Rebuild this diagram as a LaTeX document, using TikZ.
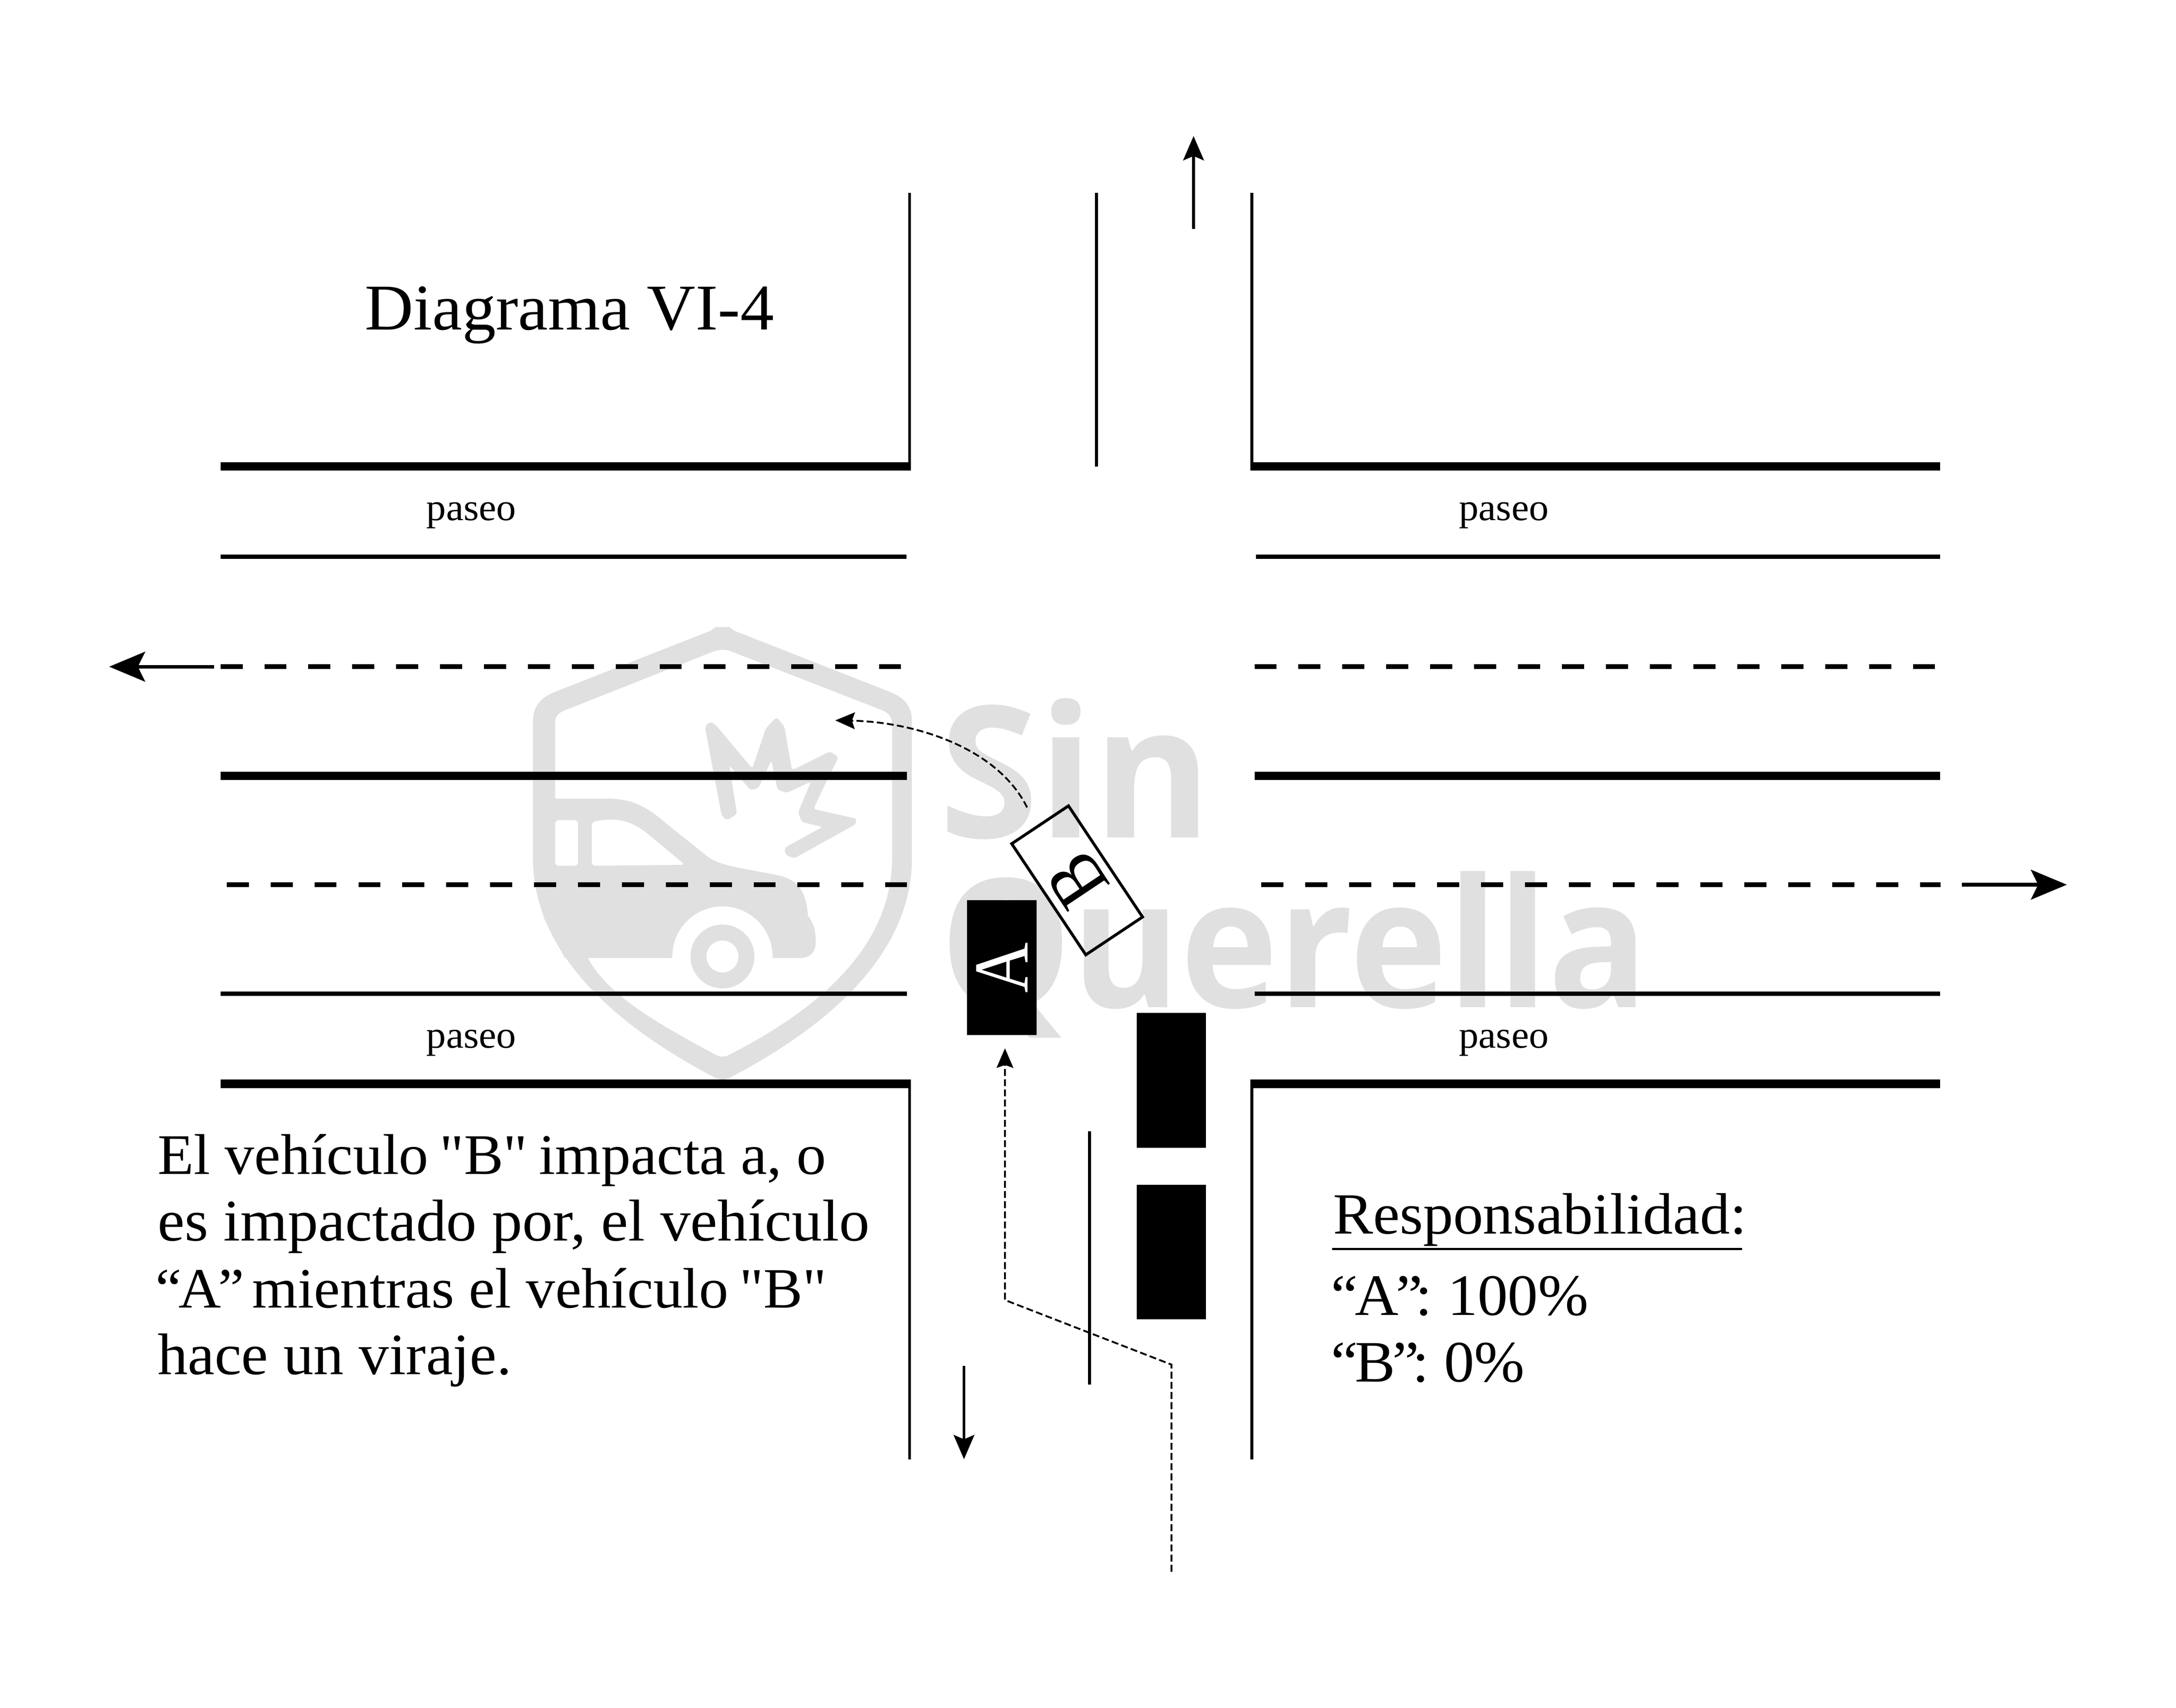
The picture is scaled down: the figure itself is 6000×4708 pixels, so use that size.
\documentclass[tikz,border=0pt]{standalone}
\usepackage{fontspec}
\usepackage{graphicx}
\newfontfamily\textofont[FakeStretch=1.03]{Liberation Serif}
\newfontfamily\letrafont[FakeStretch=0.9]{Liberation Serif}
\newfontfamily\marcafont{Open Sans}
\usetikzlibrary{arrows.meta}
\definecolor{marca}{HTML}{E0E0E0}
\newcommand{\rectaabre}{\kern-.06em"}
\newcommand{\rectacierra}{"\kern-.06em}
\newcommand{\comabre}{“\kern-.05em}
\newcommand{\comcierra}{\kern-.05em”\kern-.12em}
\tikzset{
    borde/.style={line width=0.23cm},
    carril/.style={line width=0.12cm},
    divisor/.style={line width=0.127cm, dash pattern=on 0.61cm off 0.60cm},
    acera/.style={line width=0.08cm},
    ruta/.style={line width=0.05cm, dash pattern=on 0.19cm off 0.09cm, -{Stealth[length=0.54cm, width=0.46cm, inset=0.08cm]}},
    flecha/.style={line width=0.10cm, -{Stealth[length=0.99cm, width=0.82cm, inset=0.20cm]}},
    flechita/.style={line width=0.08cm, -{Stealth[length=0.67cm, width=0.57cm, inset=0.12cm]}},
    carro/.style={fill=black, inner sep=0pt, minimum width=3.71cm, minimum height=1.91cm, text=white, font=\letrafont\fontsize{61}{61}\selectfont},
    texto/.style={anchor=base west, inner sep=0pt, font=\textofont\fontsize{46}{52}\selectfont},
    paseo/.style={anchor=base west, inner sep=0pt, font=\textofont\fontsize{30}{34}\selectfont}
}
\begin{document}
\begin{tikzpicture}[x=0.01cm, y=-0.01cm]
    \useasboundingbox (0,0) rectangle (6000,4708);

    % Marca de agua
    \begin{scope}[shift={(1400,1650)}, x=0.02105cm, y=-0.00893cm]
        \fill[marca] (272,88) -- (265,100) -- (60,290) .. controls (40,310) and (33,340) .. (33,380) -- (33,800)
            .. controls (33,1050) and (110,1280) .. (272,1480) -- (281,1487) -- (290,1480)
            .. controls (452,1280) and (529,1050) .. (529,800) -- (529,380)
            .. controls (529,340) and (522,310) .. (502,290) -- (297,100) -- (290,88) -- cycle;
        \fill[white] (75,345) -- (270,163) .. controls (277,157) and (285,157) .. (292,163) -- (490,345)
            .. controls (500,355) and (503,370) .. (503,390) -- (503,800)
            .. controls (503,1040) and (430,1240) .. (290,1408) .. controls (285,1416) and (277,1416) .. (272,1408)
            .. controls (190,1305) and (130,1220) .. (105,1110) -- (62,1000) -- (62,385)
            .. controls (62,365) and (66,353) .. (75,345) -- cycle;
        % Auto
        \fill[marca] (33,618) -- (135,618) .. controls (170,620) and (190,660) .. (205,690) -- (258,790)
            .. controls (270,815) and (285,822) .. (300,830) -- (355,855)
            .. controls (380,870) and (390,900) .. (393,980) .. controls (403,1010) and (403,1040) .. (403,1060)
            .. controls (403,1095) and (395,1110) .. (380,1110) -- (105,1110) -- (75,1110) -- (48,990) -- (36,880) -- (33,800) -- cycle;
        \fill[white, rounded corners=0.1cm] (62,684) rectangle (92,825);
        \fill[white, rounded corners=0.1cm] (110,825) -- (110,690) .. controls (150,670) and (170,700) .. (190,740) -- (232,822) -- cycle;
        \coordinate (rueda) at (281,1105);
        \fill[white] (rueda) circle[radius=1.38cm];
        \fill[marca] (rueda) circle[radius=0.88cm];
        \fill[white] (rueda) circle[radius=0.44cm];
        % Choque
        \fill[marca, rounded corners=0.08cm] (258,395) -- (265,380) -- (272,390) -- (320,525) -- (338,400) -- (352,366)
            -- (362,395) -- (372,530) -- (422,472) -- (433,490) -- (418,560) -- (400,650) -- (457,680) -- (455,697)
            -- (375,802) -- (364,792) -- (362,770) -- (412,705) -- (385,690) -- (380,660) -- (397,565) -- (365,600)
            -- (353,590) -- (345,500) -- (328,585) -- (318,592) -- (290,515) -- (300,665) -- (287,685) -- (280,670) -- cycle;
    \end{scope}
    \node (sin) at (2590,2309) [anchor=base west, inner sep=0pt, text=marca, font=\marcafont\bfseries] {\resizebox{7.5cm}{3.84cm}{Sin}};
    \node (querella) at (2592,2777) [anchor=base west, inner sep=0pt, text=marca, font=\marcafont\bfseries] {\resizebox{19.5cm}{3.75cm}{Querella}};

    % Calle vertical
    \draw[acera] (2508,532) -- (2508,1286);
    \draw[acera] (3452,532) -- (3452,1286);
    \draw[acera] (3023,532) -- (3023,1286);
    \draw[acera] (2508,2988) -- (2508,4023);
    \draw[acera] (3452,2988) -- (3452,4023);
    \draw[acera] (3004,3119) -- (3004,3817);

    % Bordes
    \draw[borde] (608,1286) -- (2512,1286);
    \draw[borde] (3448,1286) -- (5350,1286);
    \draw[borde] (608,2139) -- (2501,2139);
    \draw[borde] (3459,2139) -- (5350,2139);
    \draw[borde] (608,2988) -- (2512,2988);
    \draw[borde] (3448,2988) -- (5350,2988);

    % Carriles
    \draw[carril] (608,1535) -- (2499,1535);
    \draw[carril] (3463,1535) -- (5350,1535);
    \draw[carril] (608,2740) -- (2501,2740);
    \draw[carril] (3459,2740) -- (5350,2740);

    % Lineas divisorias
    \draw[divisor] (608,1838) -- (2484,1838);
    \draw[divisor] (3459,1838) -- (5335,1838);
    \draw[divisor] (625,2439) -- (2501,2439);
    \draw[divisor] (3478,2439) -- (5351,2439);

    % Flechas de sentido
    \draw[flecha] (590,1838) -- (301,1838);
    \draw[flecha] (5410,2439) -- (5699,2439);
    \draw[flechita] (3291,631) -- (3291,375);
    \draw[flechita] (2658,3765) -- (2658,4023);

    % Vehiculos
    \node (carroA) at (2762.5,2667.5) [carro, rotate=90] {A};
    \node (carroB) at (2970,2427) [draw=black, line width=0.08cm, inner sep=0pt, minimum width=3.68cm, minimum height=1.88cm, rotate=123.7, font=\letrafont\fontsize{61}{61}\selectfont] {B};
    \node (carroC) at (3229.5,2978.5) [carro, rotate=90] {};
    \node (carroD) at (3229.5,3452) [carro, rotate=90] {};

    % Trayectorias
    \coordinate (inicioA) at (3230,4333);
    \coordinate (quiebreA) at (3230,3762);
    \coordinate (quiebreB) at (2771,3584);
    \coordinate (finA) at (2771,2890);
    \draw[ruta] (inicioA) -- (quiebreA) -- (quiebreB) -- (finA);
    \coordinate (inicioB) at (2832,2226);
    \coordinate (finB) at (2303,1986);
    \draw[ruta] (inicioB) .. controls (2750,2060) and (2520,1990) .. (finB);

    % Textos
    \node (titulo) at (1006,909) [anchor=base west, inner sep=0pt, font=\textofont\fontsize{51.2}{58}\selectfont] {Diagrama VI-4};
    \node (paseoA) at (1175,1435) [paseo] {paseo};
    \node (paseoB) at (4022,1435) [paseo] {paseo};
    \node (paseoC) at (1175,2889) [paseo] {paseo};
    \node (paseoD) at (4022,2889) [paseo] {paseo};
    \node (lineaA) at (434,3237) [texto, font=\textofont\fontsize{45}{52}\selectfont] {El vehículo \rectaabre B\rectacierra{} impacta a, o};
    \node (lineaB) at (434,3421) [texto, font=\textofont\fontsize{46.3}{52}\selectfont] {es impactado por, el vehículo};
    \node (lineaC) at (428,3605) [texto, font=\textofont\fontsize{44.7}{52}\selectfont] {\comabre A\comcierra{} mientras el vehículo \rectaabre B\rectacierra};
    \node (lineaD) at (434,3789) [texto] {hace un viraje.};
    \node (resp) at (3675,3401) [texto, font=\textofont\fontsize{45.7}{52}\selectfont] {Responsabilidad:};
    \draw[line width=0.06cm] (3673,3443) -- (4804,3443);
    \node (respA) at (3670,3626) [texto] {\comabre A\comcierra: 100\%};
    \node (respB) at (3670,3809) [texto] {\comabre B\comcierra: 0\%};
\end{tikzpicture}
\end{document}
